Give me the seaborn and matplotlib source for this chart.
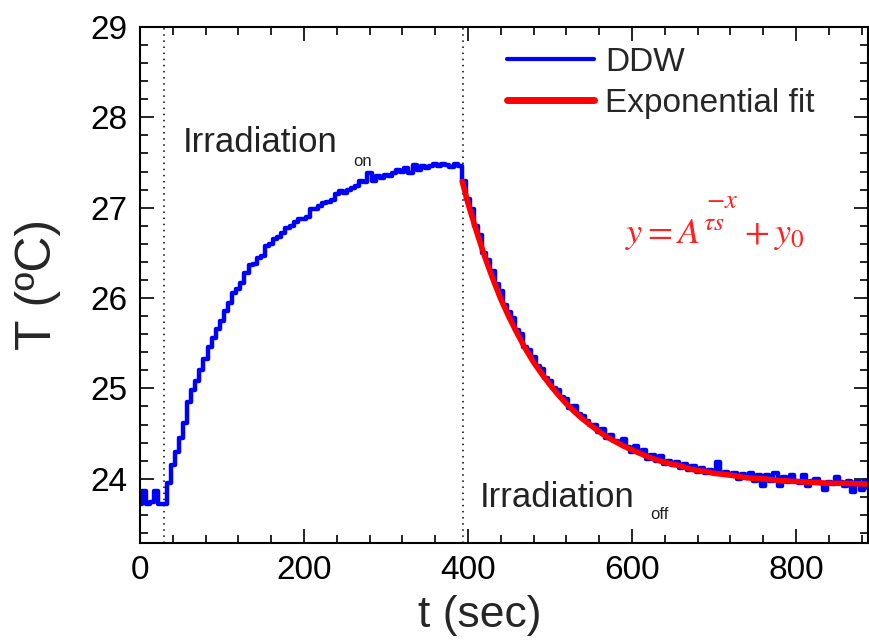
import matplotlib
matplotlib.use("Agg")
import matplotlib.pyplot as plt
import seaborn as sns
import pandas as pd
from matplotlib.lines import Line2D
from matplotlib.ticker import MultipleLocator

# ---------------- data ----------------
t_rise = [0, 5, 10, 15, 20, 25, 30, 35, 40, 45, 50, 55, 60, 65, 70, 75, 80, 85, 90, 95,
          100, 105, 110, 115, 120, 125, 130, 135, 140, 145, 150, 155, 160, 165, 170, 175,
          180, 185, 190, 195, 200, 205, 210, 215, 220, 225, 230, 235, 240, 245, 250, 255,
          260, 265, 270, 275, 280, 285, 290, 295, 300, 305, 310, 315, 320, 325, 330, 335,
          340, 345, 350, 355, 360, 365, 370, 375, 380, 385, 390]
T_rise = [23.72, 23.86, 23.72, 23.74, 23.86, 23.72, 23.72, 23.95, 24.15, 24.30, 24.45,
          24.62, 24.85, 24.98, 25.08, 25.20, 25.32, 25.46, 25.56, 25.66, 25.75, 25.86,
          25.94, 26.06, 26.10, 26.17, 26.28, 26.36, 26.38, 26.44, 26.47, 26.58, 26.60,
          26.65, 26.67, 26.72, 26.78, 26.80, 26.84, 26.87, 26.88, 26.90, 26.98, 26.98,
          27.02, 27.05, 27.06, 27.08, 27.15, 27.18, 27.16, 27.20, 27.22, 27.24, 27.30,
          27.28, 27.38, 27.30, 27.35, 27.33, 27.36, 27.35, 27.38, 27.42, 27.40, 27.44,
          27.38, 27.47, 27.42, 27.46, 27.44, 27.46, 27.48, 27.46, 27.48, 27.47, 27.45,
          27.48, 27.46]

t_decay = [395, 400, 405, 410, 415, 420, 425, 430, 435, 440, 445, 450, 455, 460, 465, 470,
           475, 480, 485, 490, 495, 500, 505, 510, 515, 520, 525, 530, 535, 540, 545, 550,
           555, 560, 565, 570, 575, 580, 585, 590, 595, 600, 605, 610, 615, 620, 625, 630,
           635, 640, 645, 650, 655, 660, 665, 670, 675, 680, 685, 690, 695, 700, 705, 710,
           715, 720, 725, 730, 735, 740, 745, 750, 755, 760, 765, 770, 775, 780, 785, 790,
           795, 800, 805, 810, 815, 820, 825, 830, 835, 840, 845, 850, 855, 860, 865, 870,
           875, 880, 885, 890]
T_decay = [27.30, 27.10, 26.98, 26.80, 26.70, 26.50, 26.42, 26.30, 26.15, 26.08, 25.92,
           25.85, 25.78, 25.65, 25.60, 25.46, 25.42, 25.35, 25.25, 25.22, 25.12, 25.08,
           25.00, 24.98, 24.90, 24.88, 24.78, 24.80, 24.72, 24.70, 24.64, 24.60, 24.60,
           24.52, 24.55, 24.45, 24.48, 24.42, 24.40, 24.44, 24.35, 24.30, 24.36, 24.28,
           24.32, 24.22, 24.26, 24.20, 24.25, 24.16, 24.20, 24.15, 24.18, 24.12, 24.16,
           24.10, 24.14, 24.08, 24.12, 24.06, 24.10, 24.08, 24.18, 24.05, 24.08, 24.04,
           24.06, 24.00, 24.05, 24.02, 24.06, 23.98, 24.04, 23.92, 24.04, 23.98, 24.06,
           23.92, 24.02, 23.96, 24.04, 23.98, 23.95, 24.04, 23.92, 23.98, 24.00, 23.95,
           23.88, 23.96, 23.94, 24.02, 23.96, 23.92, 23.98, 23.85, 23.96, 23.88, 23.98,
           23.90]

t_fit = [393, 400, 410, 420, 430, 440, 450, 460, 470, 480, 490, 500, 510, 520, 530, 540,
         550, 560, 570, 580, 590, 600, 610, 620, 630, 640, 650, 660, 670, 680, 690, 700,
         720, 740, 760, 780, 800, 820, 840, 860, 890]
T_fit = [27.29, 27.05, 26.75, 26.47, 26.22, 25.99, 25.79, 25.61, 25.44, 25.29, 25.16,
         25.04, 24.93, 24.83, 24.74, 24.66, 24.59, 24.52, 24.46, 24.41, 24.36, 24.32,
         24.28, 24.24, 24.21, 24.18, 24.16, 24.14, 24.11, 24.09, 24.08, 24.06, 24.04,
         24.01, 24.00, 23.98, 23.97, 23.96, 23.95, 23.95, 23.94]

x_ticks = [0, 200, 400, 600, 800]
y_ticks = [24, 25, 26, 27, 28, 29]
marker_lines = [29, 394]

ddw = pd.DataFrame({"t": t_rise + t_decay, "T": T_rise + T_decay})
fit = pd.DataFrame({"t": t_fit, "T": T_fit})

# ---------------- plot ----------------
sns.set_theme(style="ticks")
plt.rcParams["font.family"] = ["Liberation Sans", "DejaVu Sans"]
plt.rcParams["mathtext.fontset"] = "stix"

fig = plt.figure(figsize=(8.69, 6.41), dpi=100)
ax = fig.add_axes([0.161, 0.153, 0.838, 0.805])

sns.lineplot(data=ddw, x="t", y="T", ax=ax, color="#0000FF", linewidth=3.2,
             drawstyle="steps-mid", estimator=None, sort=False)
sns.lineplot(data=fit, x="t", y="T", ax=ax, color="#FF0000", linewidth=4.0,
             estimator=None, sort=False)

for xv in marker_lines:
    ax.axvline(xv, color="black", linestyle=(0, (1, 3)), linewidth=1.1, zorder=0)

ax.set_xlim(0, 888)
ax.set_ylim(23.29, 29)
ax.set_xticks(x_ticks)
ax.set_yticks(y_ticks)
ax.xaxis.set_minor_locator(MultipleLocator(40))
ax.yaxis.set_minor_locator(MultipleLocator(0.2))
ax.tick_params(which="both", direction="in", top=True, right=True, width=1.2, colors="black")
ax.tick_params(which="major", length=10, labelsize=24, pad=9)
ax.tick_params(which="minor", length=6)
for s in ax.spines.values():
    s.set_linewidth(1.5)
    s.set_color("black")

ax.set_xlabel("t (sec)", fontsize=32)
ax.set_ylabel("T (ºC)", fontsize=36)
ax.xaxis.set_label_coords(0.466, -0.1)
ax.yaxis.set_label_coords(-0.108, 0.5)

ax.text(52, 27.62, "Irradiation", fontsize=25, color="#222222")
ax.text(260, 27.46, "on", fontsize=12, color="#222222")
ax.text(415, 23.69, "Irradiation", fontsize=25, color="#222222")
ax.text(622, 23.55, "off", fontsize=12, color="#222222")

ax.text(591, 26.61, r"$y = A^{\tau s}\;\;+ y_0$", fontsize=26, color="#FF2020")
ax.text(690, 27.0, r"$-x$", fontsize=19, color="#FF2020")

handles = [Line2D([], [], color="#0000FF", linewidth=3.0),
           Line2D([], [], color="#FF0000", linewidth=5.0)]
ax.legend(handles, ["DDW", "Exponential fit"], loc="upper left", frameon=False,
          fontsize=24, handlelength=2.6, handletextpad=0.35, labelspacing=0.3,
          borderpad=0, borderaxespad=0, bbox_to_anchor=(0.504, 0.962))

fig.savefig("out.png", dpi=100)
